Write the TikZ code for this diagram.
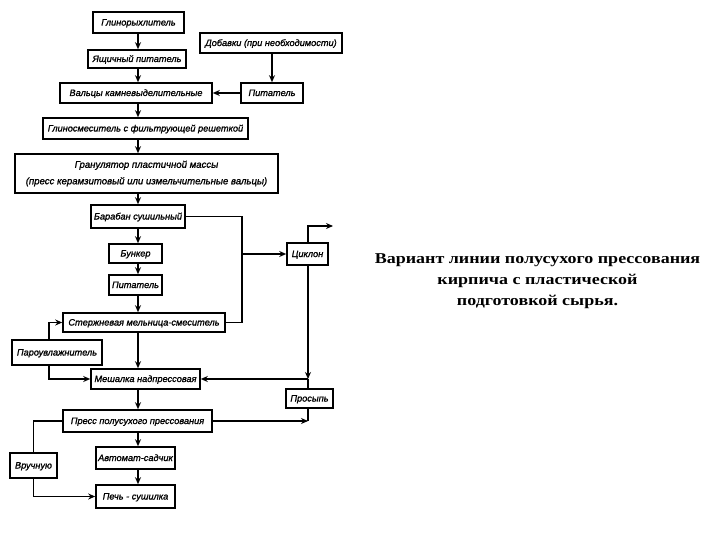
\documentclass[tikz,border=0pt]{standalone}
\usepackage{fontspec}
\setmainfont{Liberation Serif}
\newfontfamily\boxfont[FakeBold=1.2]{Liberation Sans}
\newfontfamily\capfont[FakeStretch=1.2]{Liberation Serif}
\usetikzlibrary{arrows.meta}
\tikzset{
  blk/.style={draw, line width=1.6pt, inner sep=1pt, align=center,
    font=\boxfont\itshape\fontsize{9.2}{11}\selectfont},
  one/.style={text height=6.6pt, text depth=0.6pt},
  ln/.style={line width=1.6pt},
  arr/.style={line width=1.6pt, -{Stealth[length=7pt,width=6pt]}},
}
\begin{document}
\begin{tikzpicture}[x=1pt,y=-1pt]
\useasboundingbox[fill=white] (0,0) rectangle (720,540);
\coordinate (main) at (138,0);
\coordinate (jx) at (242,0);
\coordinate (cx) at (308,0);
\coordinate (px) at (49,0);
\coordinate (cyo) at (333,226);

\node[blk, one, minimum width=91pt, minimum height=21pt] (n1) at (138.5,22.5) {Глинорыхлитель};
\node[blk, one, minimum width=98pt, minimum height=18pt] (n2) at (137,59) {Ящичный питатель};
\node[blk, one, minimum width=142pt, minimum height=20pt] (n3) at (271,43) {Добавки (при необходимости)};
\node[blk, one, minimum width=152pt, minimum height=20pt] (n4) at (136,93) {Вальцы камневыделительные};
\node[blk, one, minimum width=62pt, minimum height=20pt] (n5) at (272,93) {Питатель};
\node[blk, one, minimum width=205pt, minimum height=21pt] (n6) at (145.5,128.5) {Глиносмеситель с фильтрующей решеткой};
\node[blk, minimum width=263pt, minimum height=39pt, font=\boxfont\itshape\fontsize{9.6}{16.5}\selectfont] (n7) at (146.5,173.5) {Гранулятор пластичной массы\\(пресс керамзитовый или измельчительные вальцы)};
\node[blk, one, minimum width=94pt, minimum height=23pt] (n8) at (138,216.5) {Барабан сушильный};
\node[blk, one, minimum width=53pt, minimum height=19pt] (n9) at (135.5,253.5) {Бункер};
\node[blk, one, minimum width=41pt, minimum height=22pt] (n10) at (307.5,254) {Циклон};
\node[blk, one, minimum width=53pt, minimum height=20pt] (n11) at (135.5,285) {Питатель};
\node[blk, one, minimum width=162pt, minimum height=19pt] (n12) at (144,322.5) {Стержневая мельница-смеситель};
\node[blk, one, minimum width=90pt, minimum height=25pt] (n13) at (57,352.5) {Пароувлажнитель};
\node[blk, one, minimum width=109pt, minimum height=20pt] (n14) at (145.5,379) {Мешалка надпрессовая};
\node[blk, one, minimum width=47pt, minimum height=19pt] (n15) at (309.5,398.5) {Просыпь};
\node[blk, one, minimum width=149pt, minimum height=22pt] (n16) at (137.5,421) {Пресс полусухого прессования};
\node[blk, one, minimum width=79pt, minimum height=22pt] (n17) at (135.5,458) {Автомат-садчик};
\node[blk, one, minimum width=47pt, minimum height=25pt] (n18) at (33.5,465.5) {Вручную};
\node[blk, one, minimum width=79pt, minimum height=23pt] (n19) at (135.5,496.5) {Печь - сушилка};

\node[font=\capfont\bfseries\fontsize{15}{21}\selectfont, align=center] (cap) at (537.5,281)
  {Вариант линии полусухого прессования\\кирпича с пластической\\подготовкой сырья.};

% main vertical chain
\draw[arr] (n1.south -| main) -- (n2.north -| main);
\draw[arr] (n2.south -| main) -- (n4.north -| main);
\draw[arr] (n4.south -| main) -- (n6.north -| main);
\draw[arr] (n6.south -| main) -- (n7.north -| main);
\draw[arr] (n7.south -| main) -- (n8.north -| main);
\draw[arr] (n8.south -| main) -- (n9.north -| main);
\draw[arr] (n9.south -| main) -- (n11.north -| main);
\draw[arr] (n11.south -| main) -- (n12.north -| main);
\draw[arr] (n12.south -| main) -- (n14.north -| main);
\draw[arr] (n14.south -| main) -- (n16.north -| main);
\draw[arr] (n16.south -| main) -- (n17.north -| main);
\draw[arr] (n17.south -| main) -- (n19.north -| main);

% additives
\draw[arr] (n3.south -| n5.north) -- (n5.north);
\draw[arr] (n5.west) -- (n4.east);

% dryer / mill to cyclone
\draw[ln] (n8.east) -| (n12.east -| jx) -- (n12.east);
\draw[arr] (n10.west -| jx) -- (n10.west);
\draw[arr] (n10.north -| cx) |- (cyo);
\draw[arr] (n10.south -| cx) -- (n14.east -| cx);
\draw[ln] (n14.east -| cx) -- (n15.north -| cx);
\draw[arr] (n14.east -| cx) -- (n14.east);
\draw[arr] (n16.east) -- (n16.east -| cx);
\draw[ln] (n16.east -| cx) -- (n15.south -| cx);

% steam humidifier
\draw[arr] (n13.north -| px) |- (n12.west);
\draw[arr] (n13.south -| px) |- (n14.west);

% manual
\draw[ln] (n16.west) -| (n18.north);
\draw[arr] (n18.south) |- (n19.west);
\end{tikzpicture}
\end{document}
